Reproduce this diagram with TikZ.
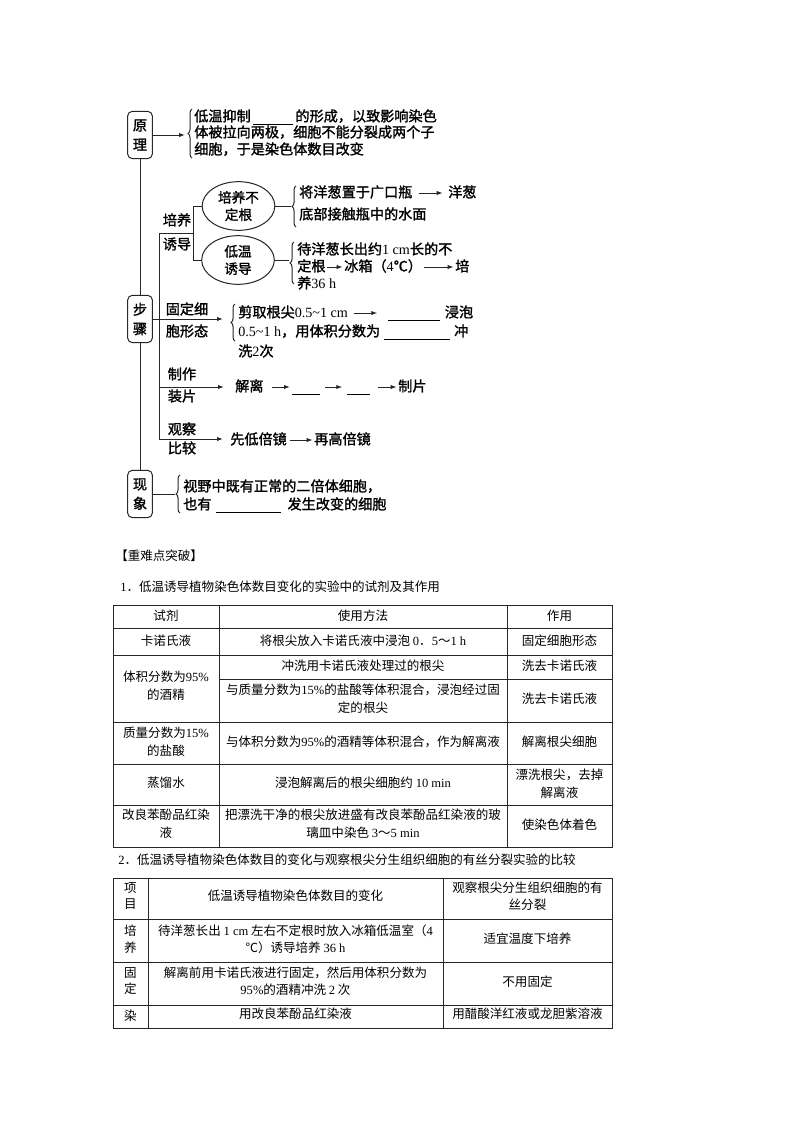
\documentclass[tikz,border=0pt]{standalone}
\usepackage{fontspec}
\setmainfont{Liberation Serif}
\newfontfamily\cjk{Noto Sans CJK SC}
\newfontfamily\cjkb[FakeBold=1.5]{Noto Sans CJK SC}
\newfontfamily\lat{Liberation Serif}
\usetikzlibrary{shapes.geometric,arrows.meta,decorations.pathreplacing}
\newcommand\latn[1]{{\lat #1}}
\newcommand\blnk[1]{\rule[-2.5pt]{#1}{0.6pt}}
\tikzset{
  ln/.style={line width=0.75pt, draw=black!85},
  arr/.style={ln, -{Latex[length=4.5pt,width=3.2pt]}},
  brc/.style={ln, decorate, decoration={brace, amplitude=3pt}},
  dg/.style={font=\cjkb\fontsize{10.6}{12.4}\selectfont, inner sep=0pt, text height=8.5pt, text depth=2pt},
  dgl/.style={dg, anchor=west},
  kbox/.style={draw=black!85, line width=0.75pt, rounded corners=3.5pt, minimum width=18.5pt, minimum height=35.5pt, inner sep=0pt, align=center, font=\cjkb\fontsize{10.6}{14.5}\selectfont},
  ell/.style={draw=black!85, line width=0.75pt, ellipse, minimum width=54.5pt, minimum height=36.5pt, inner sep=0pt, align=center, font=\cjkb\fontsize{10.2}{13}\selectfont},
  tc/.style={font=\cjk\fontsize{9.4}{13.5}\selectfont, inner sep=0pt, align=center},
  tc2/.style={font=\cjk\fontsize{9.4}{12.4}\selectfont, inner sep=0pt, align=center},
  tl/.style={font=\cjk\fontsize{9.4}{14}\selectfont, inner sep=0pt, anchor=west, text height=8pt, text depth=2pt},
  grid/.style={line width=0.7pt, draw=black!85},
}
\begin{document}
\begin{tikzpicture}[x=0.75pt,y=-0.75pt]
\fill[white] (0,0) rectangle (800,1132);
\useasboundingbox (0,0) rectangle (800,1132);

% ---------- main boxes ----------
\node[kbox] (yl) at (140,135) {原\\理};
\node[kbox] (bz) at (140,319) {步\\骤};
\node[kbox] (xx) at (140,494) {现\\象};
\draw[ln] (yl.south) -- (bz.north);
\draw[ln] (bz.south) -- (xx.north);

% ---------- 原理 ----------
\coordinate (ylb) at (185,135);
\draw[arr] (yl.east) -- (ylb);
\draw[brc] (192,158) -- (192,109);
\node[dgl] (yt1) at (194,117) {低温抑制\hspace{1.5pt}\blnk{30pt}\hspace{2pt}的形成，以致影响染色};
\node[dgl] (yt2) at (194,133) {体被拉向两极，细胞不能分裂成两个子};
\node[dgl] (yt3) at (194,150) {细胞，于是染色体数目改变};

% ---------- 步骤 tree ----------
\coordinate (s0) at (159,233);
\coordinate (jm) at (193,233);
\coordinate (j1) at (193,206);
\coordinate (j2) at (193,260);
\coordinate (s1) at (159,387);
\coordinate (s2) at (159,439);
\draw[ln] (jm) -- (s0) -- (s2);
\node[dg] (py1) at (177,221) {培养};
\node[dg] (py2) at (177,245) {诱导};
\node[ell] (e1) at (238.5,206) {培养不\\定根};
\node[ell] (e2) at (238,260) {低温\\诱导};
\draw[ln] (e1.west) -- (j1) -- (j2) -- (e2.west);

\coordinate (e1b) at (291,206);
\draw[ln] (e1.east) -- (e1b);
\draw[brc] (296,227) -- (296,186);
\node[dgl] (pa1) at (299,193) {将洋葱置于广口瓶};
\node[dgl] (pa2) at (448,193) {洋葱};
\draw[arr, shorten <=5pt, shorten >=4pt] (pa1) -- (pa2);
\node[dgl] (pa3) at (299,215) {底部接触瓶中的水面};

\coordinate (e2b) at (289,260);
\draw[ln] (e2.east) -- (e2b);
\draw[brc] (294,284) -- (294,242);
\node[dgl] (pb1) at (297,250) {待洋葱长出约\latn{1 cm}长的不};
\node[dgl] (pb2) at (297,267) {定根};
\node[dgl] (pb3) at (344,267) {冰箱（\latn{4}℃）};
\node[dgl] (pb4) at (455,267) {培};
\draw[arr, shorten <=1pt, shorten >=1pt] (pb2) -- (pb3);
\draw[arr, shorten <=1pt, shorten >=1pt] (pb3) -- (pb4);
\node[dgl] (pb5) at (297,284) {养\latn{36 h}};

% 固定细胞形态
\node[dg] (gd1) at (187,310) {固定细};
\node[dg] (gd2) at (187,332) {胞形态};
\coordinate (gde) at (223,319);
\draw[arr] (bz.east) -- (gde);
\draw[brc] (235,341) -- (235,304);
\node[dgl] (ga1) at (238,313) {剪取根尖\latn{0.5\textasciitilde1 cm}};
\node[dgl] (ga2) at (388,313) {\blnk{39pt}\hspace{3.5pt}浸泡};
\draw[arr, shorten <=4pt, shorten >=8pt] (ga1) -- (ga2);
\node[dgl] (ga3) at (238,332) {\latn{0.5\textasciitilde1 h}，用体积分数为\hspace{3pt}\blnk{49pt}\hspace{3.5pt}冲};
\node[dgl] (ga4) at (238,352) {洗\latn{2}次};

% 制作装片
\node[dg] (zz1) at (182,375) {制作};
\node[dg] (zz2) at (182,397) {装片};
\coordinate (zze) at (224,387);
\draw[arr] (s1) -- (zze);
\node[dgl] (zp1) at (235,387) {解离};
\node[dgl] (zp2) at (292,387) {\blnk{21pt}};
\node[dgl] (zp3) at (347,387) {\blnk{17pt}};
\node[dgl] (zp4) at (398,387) {制片};
\draw[arr, shorten <=6.5pt, shorten >=1.5pt] (zp1) -- (zp2);
\draw[arr, shorten <=3.5pt, shorten >=3.5pt] (zp2) -- (zp3);
\draw[arr, shorten <=6pt, shorten >=1pt] (zp3) -- (zp4);

% 观察比较
\node[dg] (gc1) at (182,430) {观察};
\node[dg] (gc2) at (182,449) {比较};
\coordinate (gce) at (223,439);
\draw[arr] (s2) -- (gce);
\node[dgl] (gp1) at (230,440) {先低倍镜};
\node[dgl] (gp2) at (314,440) {再高倍镜};
\draw[arr, shorten <=2pt, shorten >=1pt] (gp1) -- (gp2);

% ---------- 现象 ----------
\coordinate (xxb) at (175,494);
\draw[ln] (xx.east) -- (xxb);
\draw[brc] (180,513) -- (180,475);
\node[dgl] (xt1) at (183,487) {视野中既有正常的二倍体细胞，};
\node[dgl] (xt2) at (183,505) {也有\hspace{3pt}\blnk{49pt}\hspace{5pt}发生改变的细胞};

% ---------- headings ----------
\node[tl] (hd0) at (115,556) {【重难点突破】};
\node[tl] (hd1) at (120,587) {\latn{1}．低温诱导植物染色体数目变化的实验中的试剂及其作用};
\node[tl] (hd2) at (118,860) {\latn{2}．低温诱导植物染色体数目的变化与观察根尖分生组织细胞的有丝分裂实验的比较};

% ---------- table 1 ----------
\draw[grid] (113,605) rectangle (612,847);
\draw[grid] (113,628) -- (612,628);
\draw[grid] (113,655) -- (612,655);
\draw[grid] (219,679) -- (612,679);
\draw[grid] (113,722) -- (612,722);
\draw[grid] (113,764) -- (612,764);
\draw[grid] (113,805) -- (612,805);
\draw[grid] (219,605) -- (219,847);
\draw[grid] (507,605) -- (507,847);

\node[tc] (h1) at (166,616) {试剂};
\node[tc] (h2) at (363,616) {使用方法};
\node[tc] (h3) at (559.5,616) {作用};
\node[tc] (r1a) at (166,641) {卡诺氏液};
\node[tc] (r1b) at (363,641) {将根尖放入卡诺氏液中浸泡 \latn{0}．\latn{5}～\latn{1 h}};
\node[tc] (r1c) at (559.5,641) {固定细胞形态};
\node[tc] (r2a) at (166,686) {体积分数为\latn{95\%}\\的酒精};
\node[tc] (r2b) at (363,666) {冲洗用卡诺氏液处理过的根尖};
\node[tc] (r2c) at (363,698.5) {与质量分数为\latn{15\%}的盐酸等体积混合，浸泡经过固\\定的根尖};
\node[tc] (r2d) at (559.5,666) {洗去卡诺氏液};
\node[tc] (r2e) at (559.5,699) {洗去卡诺氏液};
\node[tc] (r3a) at (166,742) {质量分数为\latn{15\%}\\的盐酸};
\node[tc] (r3b) at (363,742) {与体积分数为\latn{95\%}的酒精等体积混合，作为解离液};
\node[tc] (r3c) at (559.5,742) {解离根尖细胞};
\node[tc] (r4a) at (166,783) {蒸馏水};
\node[tc] (r4b) at (363,783) {浸泡解离后的根尖细胞约 \latn{10 min}};
\node[tc] (r4c) at (559.5,783.5) {漂洗根尖，去掉\\解离液};
\node[tc] (r5a) at (166,824) {改良苯酚品红染\\液};
\node[tc] (r5b) at (363,824) {把漂洗干净的根尖放进盛有改良苯酚品红染液的玻\\璃皿中染色 \latn{3}～\latn{5 min}};
\node[tc] (r5c) at (559.5,825) {使染色体着色};

% ---------- table 2 ----------
\draw[grid] (113,878) rectangle (612,1028);
\draw[grid] (113,919) -- (612,919);
\draw[grid] (113,962) -- (612,962);
\draw[grid] (113,1005) -- (612,1005);
\draw[grid] (148,878) -- (148,1028);
\draw[grid] (443,878) -- (443,1028);

\node[tc2] (q1) at (130.5,896) {项\\目};
\node[tc2] (q2) at (295.5,896) {低温诱导植物染色体数目的变化};
\node[tc2] (q3) at (527.5,896) {观察根尖分生组织细胞的有\\丝分裂};
\node[tc2] (q4) at (130.5,939) {培\\养};
\node[tc2] (q5) at (295.5,939) {待洋葱长出 \latn{1 cm} 左右不定根时放入冰箱低温室（\latn{4}\\℃）诱导培养 \latn{36 h}};
\node[tc2] (q6) at (527.5,939) {适宜温度下培养};
\node[tc2] (q7) at (130.5,981) {固\\定};
\node[tc2] (q8) at (295.5,981) {解离前用卡诺氏液进行固定，然后用体积分数为\\\latn{95\%}的酒精冲洗 \latn{2} 次};
\node[tc2] (q9) at (527.5,982) {不用固定};
\node[tc2] (q10) at (130.5,1016) {染};
\node[tc2] (q11) at (295.5,1014) {用改良苯酚品红染液};
\node[tc2] (q12) at (527.5,1014) {用醋酸洋红液或龙胆紫溶液};
\end{tikzpicture}
\end{document}
